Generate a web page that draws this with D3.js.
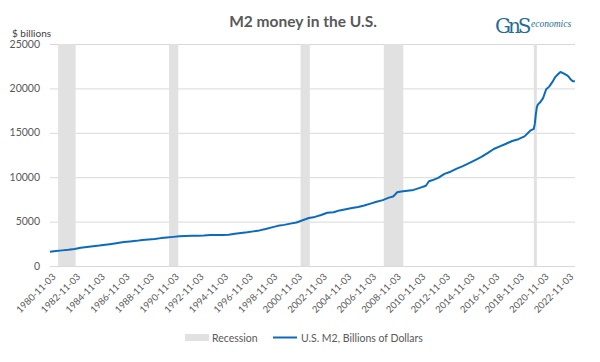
<!DOCTYPE html>
<html>
<head>
<meta charset="utf-8">
<script src="https://cdn.jsdelivr.net/npm/d3@7"></script>
<style>
  body { margin: 0; background: #fff; }
  svg { font-family: Lato, "Open Sans", sans-serif; }
</style>
</head>
<body>
<svg width="600" height="362"></svg>
<script>
"use strict";

// M2, billions of dollars
var m2Dates = ["1980-11","1981-05","1981-11","1982-05","1982-11","1983-05","1983-11","1984-05","1984-11",
  "1985-05","1985-11","1986-05","1986-11","1987-05","1987-11","1988-05","1988-11","1989-05","1989-11",
  "1990-05","1990-11","1991-05","1991-11","1992-05","1992-11","1993-05","1993-11","1994-05","1994-11",
  "1995-05","1995-11","1996-05","1996-11","1997-05","1997-11","1998-05","1998-11","1999-05","1999-11",
  "2000-05","2000-11","2001-05","2001-11","2002-05","2002-11","2003-05","2003-11","2004-05","2004-11",
  "2005-05","2005-11","2006-05","2006-11","2007-05","2007-11","2008-05","2008-09","2008-11","2009-01",
  "2009-05","2009-11","2010-05","2010-11","2011-05","2011-08","2011-11","2012-05","2012-11","2013-05",
  "2013-11","2014-05","2014-11","2015-05","2015-11","2016-05","2016-11","2017-05","2017-11","2018-05",
  "2018-11","2019-05","2019-11","2020-02","2020-03","2020-04","2020-05","2020-06","2020-08","2020-11",
  "2021-02","2021-05","2021-08","2021-11","2022-02","2022-04","2022-07","2022-10","2022-12","2023-02",
  "2023-04","2023-06"];
var m2Values = [1600,1680,1760,1830,1920,2060,2150,2230,2300,
  2400,2490,2590,2700,2770,2830,2920,2990,3030,3140,
  3220,3280,3340,3380,3400,3420,3430,3480,3500,3500,
  3530,3630,3720,3800,3900,4010,4170,4350,4520,4630,
  4770,4900,5150,5400,5530,5740,5990,6060,6260,6390,
  6520,6650,6810,7020,7240,7420,7700,7820,8050,8300,
  8380,8480,8570,8800,9040,9550,9650,9920,10380,10620,
  10960,11250,11590,11930,12280,12710,13180,13480,13770,14080,
  14280,14600,15280,15450,16000,17100,17900,18200,18400,18900,
  19900,20200,20700,21300,21650,21850,21700,21500,21300,21000,
  20800,20800];

// NBER recessions (first month, last month)
var recessionStart = ["1981-07","1990-07","2001-03","2007-12","2020-02"];
var recessionEnd   = ["1982-11","1991-03","2001-11","2009-06","2020-04"];

var xTickLabels = ["1980-11-03","1982-11-03","1984-11-03","1986-11-03","1988-11-03","1990-11-03",
  "1992-11-03","1994-11-03","1996-11-03","1998-11-03","2000-11-03","2002-11-03","2004-11-03",
  "2006-11-03","2008-11-03","2010-11-03","2012-11-03","2014-11-03","2016-11-03","2018-11-03",
  "2020-11-03","2022-11-03"];
var yTicks = [0, 5000, 10000, 15000, 20000, 25000];

var parseMonth = d3.timeParse("%Y-%m");
var parseDay = d3.timeParse("%Y-%m-%d");

var data = m2Dates.map(function(d, i) { return {date: parseMonth(d), value: m2Values[i]}; });
var recessions = recessionStart.map(function(d, i) {
  return {start: parseMonth(d), end: d3.timeMonth.offset(parseMonth(recessionEnd[i]), 1)};
});

var svg = d3.select("svg"),
    margin = {top: 44, right: 25, bottom: 96, left: 50},
    width = +svg.attr("width") - margin.left - margin.right,
    height = +svg.attr("height") - margin.top - margin.bottom,
    g = svg.append("g").attr("transform", "translate(" + margin.left + "," + margin.top + ")");

var x = d3.scaleTime()
    .domain([parseDay("1980-11-03"), parseDay("2023-06-05")])
    .range([0, width]);

var y = d3.scaleLinear()
    .domain([0, 25000])
    .range([height, 0]);

// gridlines
g.append("g")
  .selectAll("line")
  .data(yTicks)
  .enter().append("line")
    .attr("x1", 0)
    .attr("x2", width)
    .attr("y1", function(d) { return y(d) + 0.5; })
    .attr("y2", function(d) { return y(d) + 0.5; })
    .attr("stroke", "#d9d9d9")
    .attr("stroke-width", 1);

// recession bands
g.append("g")
  .selectAll("rect")
  .data(recessions)
  .enter().append("rect")
    .attr("x", function(d) { return x(d.start); })
    .attr("width", function(d) { return Math.max(3, x(d.end) - x(d.start)); })
    .attr("y", y(25000))
    .attr("height", y(0) - y(25000))
    .attr("fill", "#e1e1e1");

// y axis labels
g.append("g")
  .selectAll("text")
  .data(yTicks)
  .enter().append("text")
    .attr("x", -10)
    .attr("y", function(d) { return y(d); })
    .attr("dy", "0.35em")
    .attr("text-anchor", "end")
    .attr("font-size", 10.5)
    .attr("fill", "#595959")
    .text(function(d) { return d; });

// x axis labels
g.append("g")
  .selectAll("text")
  .data(xTickLabels)
  .enter().append("text")
    .attr("transform", function(d) { return "translate(" + (x(parseDay(d)) + 4) + "," + (height + 9) + ") rotate(-45)"; })
    .attr("text-anchor", "end")
    .attr("dy", "0.35em")
    .attr("font-size", 9.5)
    .attr("fill", "#595959")
    .text(function(d) { return d; });

// M2 line
g.append("path")
  .datum(data)
  .attr("fill", "none")
  .attr("stroke", "#0a6bbd")
  .attr("stroke-width", 2)
  .attr("stroke-linejoin", "round")
  .attr("d", d3.line()
    .x(function(d) { return x(d.date); })
    .y(function(d) { return y(d.value); }));

// title
svg.append("text")
  .attr("x", 303)
  .attr("y", 27)
  .attr("text-anchor", "middle")
  .attr("font-size", 15.5)
  .attr("font-weight", "bold")
  .attr("fill", "#595959")
  .text("M2 money in the U.S.");

svg.append("text")
  .attr("x", 12)
  .attr("y", 37)
  .attr("font-size", 10)
  .attr("fill", "#404040")
  .text("$ billions");

// logo
var logo = svg.append("g").attr("fill", "#1f6e98");
logo.append("text")
  .attr("x", 495).attr("y", 33)
  .attr("font-family", "'DejaVu Serif', serif")
  .attr("font-size", 20)
  .attr("letter-spacing", -3)
  .text("GnS");
logo.append("text")
  .attr("x", 531).attr("y", 27)
  .attr("font-family", "'Liberation Serif', serif")
  .attr("font-style", "italic")
  .attr("font-size", 9.5)
  .text("economics");

// legend
var legend = svg.append("g").attr("font-size", 10.5).attr("fill", "#595959");
legend.append("rect")
  .attr("x", 185).attr("y", 334).attr("width", 24).attr("height", 7)
  .attr("fill", "#e1e1e1");
legend.append("text")
  .attr("x", 212).attr("y", 341.5)
  .text("Recession");
legend.append("line")
  .attr("x1", 273).attr("x2", 297).attr("y1", 337.5).attr("y2", 337.5)
  .attr("stroke", "#0a6bbd").attr("stroke-width", 2);
legend.append("text")
  .attr("x", 301).attr("y", 341.5)
  .text("U.S. M2, Billions of Dollars");
</script>
</body>
</html>
